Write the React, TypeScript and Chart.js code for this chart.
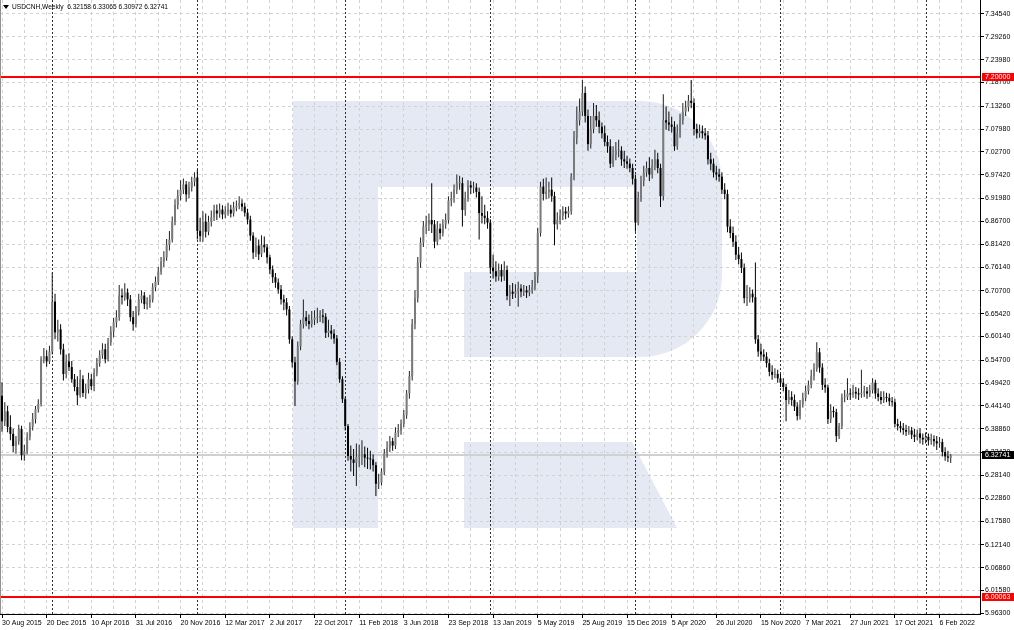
import React, { useEffect, useRef } from 'react';
import { Chart, registerables } from 'chart.js';

Chart.register(...registerables);

// ---- Data (USDCNH weekly candles, 30 Aug 2015 .. 6 Mar 2022) ----
const OPEN = [
  6.465, 6.406, 6.429, 6.393, 6.377, 6.349, 6.360, 6.388, 6.328, 6.337,
  6.370, 6.393, 6.411, 6.434, 6.446, 6.549, 6.556, 6.544, 6.567, 6.682,
  6.611, 6.618, 6.572, 6.515, 6.544, 6.531, 6.503, 6.485, 6.466, 6.503,
  6.471, 6.480, 6.503, 6.487, 6.517, 6.540, 6.558, 6.572, 6.549, 6.588,
  6.613, 6.634, 6.646, 6.696, 6.692, 6.703, 6.687, 6.646, 6.630, 6.659,
  6.687, 6.696, 6.676, 6.680, 6.687, 6.715, 6.728, 6.751, 6.774, 6.784,
  6.813, 6.825, 6.866, 6.905, 6.926, 6.940, 6.952, 6.929, 6.945, 6.958,
  6.968, 6.845, 6.833, 6.866, 6.843, 6.866, 6.876, 6.892, 6.885, 6.894,
  6.883, 6.889, 6.894, 6.885, 6.899, 6.903, 6.908, 6.901, 6.887, 6.871,
  6.834, 6.795, 6.811, 6.791, 6.813, 6.807, 6.784, 6.756, 6.738, 6.726,
  6.710, 6.687, 6.680, 6.664, 6.595, 6.542, 6.498, 6.579, 6.630, 6.646,
  6.637, 6.630, 6.640, 6.645, 6.645, 6.650, 6.647, 6.610, 6.615, 6.608,
  6.597, 6.543, 6.503, 6.457, 6.395, 6.326, 6.318, 6.310, 6.324, 6.325,
  6.330, 6.322, 6.320, 6.318, 6.305, 6.262, 6.265, 6.290, 6.332, 6.345,
  6.360, 6.350, 6.380, 6.385, 6.400, 6.420, 6.470, 6.510, 6.630, 6.690,
  6.772, 6.818, 6.855, 6.860, 6.870, 6.860, 6.820, 6.850, 6.840, 6.860,
  6.870, 6.915, 6.920, 6.940, 6.955, 6.955, 6.893, 6.920, 6.950, 6.945,
  6.945, 6.935, 6.886, 6.880, 6.875, 6.864, 6.760, 6.752, 6.740, 6.755,
  6.740, 6.755, 6.695, 6.705, 6.700, 6.705, 6.712, 6.705, 6.708, 6.703,
  6.708, 6.715, 6.740, 6.840, 6.947, 6.930, 6.935, 6.940, 6.925, 6.860,
  6.870, 6.880, 6.890, 6.885, 6.890, 6.970, 7.060, 7.100, 7.120, 7.163,
  7.110, 7.045, 7.080, 7.110, 7.100, 7.085, 7.070, 7.050, 7.040, 7.000,
  7.020, 7.030, 7.030, 7.010, 7.005, 7.000, 6.990, 6.965, 6.864, 6.920,
  6.960, 6.980, 6.990, 6.975, 6.995, 7.010, 6.990, 6.925, 7.100, 7.095,
  7.090, 7.085, 7.040, 7.070, 7.100, 7.120, 7.130, 7.145, 7.140, 7.080,
  7.070, 7.075, 7.070, 7.065, 7.010, 7.000, 6.980, 6.975, 6.970, 6.940,
  6.930, 6.855, 6.840, 6.820, 6.790, 6.780, 6.760, 6.690, 6.690, 6.700,
  6.692, 6.595, 6.567, 6.560, 6.555, 6.540, 6.520, 6.513, 6.515, 6.505,
  6.495, 6.485, 6.455, 6.462, 6.455, 6.440, 6.418, 6.445, 6.460, 6.476,
  6.490, 6.510, 6.527, 6.565, 6.530, 6.490, 6.484, 6.411, 6.430, 6.427,
  6.372, 6.395, 6.461, 6.462, 6.470, 6.468, 6.474, 6.470, 6.468, 6.472,
  6.475, 6.470, 6.478, 6.495, 6.470, 6.462, 6.455, 6.462, 6.460, 6.452,
  6.450, 6.400, 6.395, 6.390, 6.386, 6.382, 6.385, 6.375, 6.370, 6.378,
  6.368, 6.364, 6.370, 6.362, 6.365, 6.360, 6.355, 6.358, 6.335, 6.325,
  6.32158,
];

const HIGH = [
  6.496, 6.450, 6.441, 6.420, 6.389, 6.372, 6.398, 6.396, 6.352, 6.381,
  6.404, 6.425, 6.441, 6.457, 6.556, 6.575, 6.570, 6.580, 6.749, 6.700,
  6.640, 6.630, 6.585, 6.560, 6.563, 6.545, 6.515, 6.510, 6.525, 6.512,
  6.492, 6.518, 6.515, 6.528, 6.552, 6.570, 6.586, 6.585, 6.598, 6.625,
  6.645, 6.662, 6.720, 6.712, 6.724, 6.712, 6.697, 6.660, 6.672, 6.700,
  6.708, 6.704, 6.692, 6.698, 6.724, 6.740, 6.762, 6.785, 6.798, 6.826,
  6.845, 6.878, 6.918, 6.940, 6.962, 6.966, 6.960, 6.958, 6.970, 6.980,
  6.986, 6.875, 6.890, 6.885, 6.880, 6.892, 6.905, 6.906, 6.908, 6.904,
  6.902, 6.910, 6.905, 6.912, 6.915, 6.925, 6.918, 6.910, 6.896, 6.880,
  6.842, 6.830, 6.825, 6.835, 6.832, 6.815, 6.790, 6.765, 6.748, 6.735,
  6.720, 6.698, 6.690, 6.672, 6.602, 6.555, 6.590, 6.640, 6.687, 6.660,
  6.652, 6.660, 6.662, 6.668, 6.662, 6.665, 6.655, 6.640, 6.628, 6.618,
  6.605, 6.552, 6.510, 6.462, 6.400, 6.350, 6.342, 6.355, 6.352, 6.362,
  6.348, 6.345, 6.338, 6.330, 6.312, 6.285, 6.298, 6.342, 6.360, 6.372,
  6.368, 6.392, 6.400, 6.410, 6.432, 6.478, 6.522, 6.642, 6.708, 6.785,
  6.830, 6.868, 6.880, 6.885, 6.955, 6.870, 6.868, 6.862, 6.872, 6.885,
  6.925, 6.935, 6.952, 6.975, 6.972, 6.968, 6.935, 6.962, 6.960, 6.958,
  6.955, 6.945, 6.925, 6.905, 6.890, 6.872, 6.790, 6.775, 6.770, 6.768,
  6.775, 6.765, 6.720, 6.725, 6.722, 6.728, 6.722, 6.720, 6.718, 6.720,
  6.732, 6.750, 6.852, 6.958, 6.965, 6.968, 6.958, 6.968, 6.935, 6.888,
  6.895, 6.902, 6.900, 6.902, 6.978, 7.075, 7.132, 7.150, 7.193, 7.178,
  7.125, 7.110, 7.140, 7.135, 7.120, 7.095, 7.088, 7.065, 7.056, 7.040,
  7.050, 7.055, 7.040, 7.030, 7.018, 7.012, 7.000, 6.975, 6.935, 6.972,
  6.995, 7.005, 7.015, 7.010, 7.032, 7.025, 7.000, 7.160, 7.132, 7.120,
  7.108, 7.098, 7.090, 7.115, 7.140, 7.145, 7.158, 7.193, 7.150, 7.092,
  7.090, 7.088, 7.082, 7.075, 7.025, 7.012, 6.995, 6.988, 6.980, 6.955,
  6.940, 6.872, 6.855, 6.835, 6.808, 6.795, 6.770, 6.720, 6.715, 6.710,
  6.772, 6.605, 6.585, 6.572, 6.565, 6.550, 6.535, 6.528, 6.525, 6.515,
  6.505, 6.492, 6.478, 6.475, 6.468, 6.450, 6.455, 6.472, 6.488, 6.500,
  6.525, 6.540, 6.588, 6.575, 6.540, 6.505, 6.490, 6.445, 6.440, 6.435,
  6.402, 6.470, 6.478, 6.505, 6.482, 6.490, 6.485, 6.482, 6.525, 6.488,
  6.485, 6.490, 6.505, 6.502, 6.482, 6.475, 6.475, 6.472, 6.470, 6.462,
  6.458, 6.412, 6.406, 6.402, 6.398, 6.395, 6.393, 6.388, 6.387, 6.390,
  6.378, 6.380, 6.378, 6.377, 6.374, 6.372, 6.370, 6.366, 6.346, 6.338,
  6.33065,
];

const LOW = [
  6.382, 6.395, 6.381, 6.362, 6.335, 6.331, 6.352, 6.316, 6.315, 6.330,
  6.362, 6.385, 6.401, 6.426, 6.440, 6.540, 6.532, 6.538, 6.560, 6.595,
  6.590, 6.560, 6.500, 6.505, 6.522, 6.495, 6.475, 6.443, 6.460, 6.462,
  6.458, 6.470, 6.478, 6.475, 6.510, 6.532, 6.550, 6.540, 6.544, 6.580,
  6.600, 6.622, 6.638, 6.675, 6.684, 6.672, 6.636, 6.615, 6.622, 6.650,
  6.678, 6.665, 6.664, 6.668, 6.680, 6.706, 6.720, 6.744, 6.762, 6.776,
  6.800, 6.818, 6.858, 6.895, 6.915, 6.930, 6.912, 6.920, 6.936, 6.948,
  6.825, 6.820, 6.820, 6.830, 6.835, 6.855, 6.868, 6.870, 6.875, 6.872,
  6.874, 6.880, 6.876, 6.878, 6.890, 6.895, 6.890, 6.878, 6.860, 6.822,
  6.780, 6.785, 6.778, 6.785, 6.795, 6.770, 6.745, 6.725, 6.714, 6.700,
  6.675, 6.662, 6.650, 6.585, 6.530, 6.441, 6.490, 6.570, 6.620, 6.625,
  6.618, 6.622, 6.628, 6.632, 6.635, 6.632, 6.598, 6.600, 6.595, 6.585,
  6.535, 6.495, 6.448, 6.385, 6.315, 6.290, 6.280, 6.257, 6.300, 6.305,
  6.300, 6.296, 6.295, 6.290, 6.234, 6.250, 6.258, 6.282, 6.322, 6.335,
  6.338, 6.342, 6.370, 6.375, 6.392, 6.412, 6.458, 6.500, 6.618, 6.680,
  6.760, 6.808, 6.838, 6.845, 6.840, 6.805, 6.812, 6.825, 6.832, 6.850,
  6.862, 6.902, 6.910, 6.930, 6.940, 6.855, 6.880, 6.912, 6.930, 6.932,
  6.922, 6.825, 6.862, 6.860, 6.850, 6.748, 6.735, 6.728, 6.730, 6.728,
  6.730, 6.685, 6.672, 6.688, 6.690, 6.670, 6.692, 6.695, 6.690, 6.694,
  6.700, 6.708, 6.725, 6.832, 6.915, 6.918, 6.920, 6.912, 6.812, 6.848,
  6.860, 6.870, 6.872, 6.875, 6.882, 6.962, 7.045, 7.088, 7.110, 7.095,
  7.030, 7.035, 7.070, 7.085, 7.070, 7.058, 7.040, 7.025, 6.990, 6.992,
  7.008, 7.015, 6.995, 6.990, 6.988, 6.980, 6.952, 6.843, 6.858, 6.912,
  6.948, 6.970, 6.960, 6.966, 6.985, 6.978, 6.900, 6.915, 7.078, 7.075,
  7.072, 7.030, 7.032, 7.060, 7.090, 7.110, 7.120, 7.128, 7.065, 7.058,
  7.060, 7.058, 7.055, 6.998, 6.985, 6.968, 6.962, 6.958, 6.930, 6.918,
  6.842, 6.828, 6.808, 6.778, 6.768, 6.748, 6.678, 6.672, 6.680, 6.680,
  6.585, 6.555, 6.545, 6.545, 6.530, 6.510, 6.502, 6.505, 6.495, 6.485,
  6.475, 6.406, 6.445, 6.442, 6.430, 6.408, 6.410, 6.438, 6.452, 6.468,
  6.482, 6.500, 6.520, 6.518, 6.478, 6.472, 6.400, 6.402, 6.415, 6.358,
  6.365, 6.388, 6.450, 6.455, 6.455, 6.460, 6.458, 6.455, 6.460, 6.462,
  6.458, 6.462, 6.470, 6.458, 6.452, 6.445, 6.448, 6.450, 6.442, 6.440,
  6.392, 6.385, 6.380, 6.375, 6.372, 6.375, 6.365, 6.358, 6.362, 6.355,
  6.352, 6.355, 6.350, 6.352, 6.348, 6.340, 6.345, 6.325, 6.315, 6.312,
  6.30972,
];

const CLOSE = [
  6.406, 6.429, 6.393, 6.377, 6.349, 6.360, 6.388, 6.328, 6.337, 6.370,
  6.393, 6.411, 6.434, 6.446, 6.549, 6.556, 6.544, 6.567, 6.682, 6.611,
  6.618, 6.572, 6.515, 6.544, 6.531, 6.503, 6.485, 6.466, 6.503, 6.471,
  6.480, 6.503, 6.487, 6.517, 6.540, 6.558, 6.572, 6.549, 6.588, 6.613,
  6.634, 6.646, 6.696, 6.692, 6.703, 6.687, 6.646, 6.630, 6.659, 6.687,
  6.696, 6.676, 6.680, 6.687, 6.715, 6.728, 6.751, 6.774, 6.784, 6.813,
  6.825, 6.866, 6.905, 6.926, 6.940, 6.952, 6.929, 6.945, 6.958, 6.968,
  6.845, 6.833, 6.866, 6.843, 6.866, 6.876, 6.892, 6.885, 6.894, 6.883,
  6.889, 6.894, 6.885, 6.899, 6.903, 6.908, 6.901, 6.887, 6.871, 6.834,
  6.795, 6.811, 6.791, 6.813, 6.807, 6.784, 6.756, 6.738, 6.726, 6.710,
  6.687, 6.680, 6.664, 6.595, 6.542, 6.498, 6.579, 6.630, 6.646, 6.637,
  6.630, 6.640, 6.645, 6.645, 6.650, 6.647, 6.610, 6.615, 6.608, 6.597,
  6.543, 6.503, 6.457, 6.395, 6.326, 6.318, 6.310, 6.324, 6.325, 6.330,
  6.322, 6.320, 6.318, 6.305, 6.262, 6.265, 6.290, 6.332, 6.345, 6.360,
  6.350, 6.380, 6.385, 6.400, 6.420, 6.470, 6.510, 6.630, 6.690, 6.772,
  6.818, 6.855, 6.860, 6.870, 6.860, 6.820, 6.850, 6.840, 6.860, 6.870,
  6.915, 6.920, 6.940, 6.955, 6.955, 6.893, 6.920, 6.950, 6.945, 6.945,
  6.935, 6.886, 6.880, 6.875, 6.864, 6.760, 6.752, 6.740, 6.755, 6.740,
  6.755, 6.695, 6.705, 6.700, 6.705, 6.712, 6.705, 6.708, 6.703, 6.708,
  6.715, 6.740, 6.840, 6.947, 6.930, 6.935, 6.940, 6.925, 6.860, 6.870,
  6.880, 6.890, 6.885, 6.890, 6.970, 7.060, 7.100, 7.120, 7.163, 7.110,
  7.045, 7.080, 7.110, 7.100, 7.085, 7.070, 7.050, 7.040, 7.000, 7.020,
  7.030, 7.030, 7.010, 7.005, 7.000, 6.990, 6.965, 6.864, 6.920, 6.960,
  6.980, 6.990, 6.975, 6.995, 7.010, 6.990, 6.925, 7.100, 7.095, 7.090,
  7.085, 7.040, 7.070, 7.100, 7.120, 7.130, 7.145, 7.140, 7.080, 7.070,
  7.075, 7.070, 7.065, 7.010, 7.000, 6.980, 6.975, 6.970, 6.940, 6.930,
  6.855, 6.840, 6.820, 6.790, 6.780, 6.760, 6.690, 6.690, 6.700, 6.692,
  6.595, 6.567, 6.560, 6.555, 6.540, 6.520, 6.513, 6.515, 6.505, 6.495,
  6.485, 6.455, 6.462, 6.455, 6.440, 6.418, 6.445, 6.460, 6.476, 6.490,
  6.510, 6.527, 6.565, 6.530, 6.490, 6.484, 6.411, 6.430, 6.427, 6.372,
  6.395, 6.461, 6.462, 6.470, 6.468, 6.474, 6.470, 6.468, 6.472, 6.475,
  6.470, 6.478, 6.495, 6.470, 6.462, 6.455, 6.462, 6.460, 6.452, 6.450,
  6.400, 6.395, 6.390, 6.386, 6.382, 6.385, 6.375, 6.370, 6.378, 6.368,
  6.364, 6.370, 6.362, 6.365, 6.360, 6.355, 6.358, 6.335, 6.325, 6.322,
  6.32741,
];

// x-axis tick labels, one every 16 weekly bars starting at bar 0
const X_LABELS = [
  '30 Aug 2015', '20 Dec 2015', '10 Apr 2016', '31 Jul 2016', '20 Nov 2016',
  '12 Mar 2017', '2 Jul 2017', '22 Oct 2017', '11 Feb 2018', '3 Jun 2018',
  '23 Sep 2018', '13 Jan 2019', '5 May 2019', '25 Aug 2019', '15 Dec 2019',
  '5 Apr 2020', '26 Jul 2020', '15 Nov 2020', '7 Mar 2021', '27 Jun 2021',
  '17 Oct 2021', '6 Feb 2022',
];
const X_LABEL_STEP = 16;
const X_GRID_STEP = 8;

// price-axis tick labels
const Y_TICKS = [
  7.3454, 7.2926, 7.2398, 7.187, 7.1326, 7.0798, 7.027, 6.9742, 6.9198,
  6.867, 6.8142, 6.7614, 6.707, 6.6542, 6.6014, 6.547, 6.4942, 6.4414,
  6.3886, 6.3342, 6.2814, 6.2286, 6.1758, 6.1214, 6.0686, 6.0158, 5.963,
];

// first weekly bar of each new year (period separators)
const YEAR_START_BARS = [18, 70, 123, 175, 227, 279, 331];

// horizontal levels
const RED_LEVELS = [7.2, 6.00063];
const BID = 6.32741;
const SYMBOL = 'USDCNH,Weekly';
const HEADER_OHLC = ['6.32158', '6.33065', '6.30972', '6.32741'];

const Y_MIN = 5.9617;
const Y_MAX = 7.3773;
const X_MIN = -0.72;
const X_MAX = 350.5;

const FONT_FAMILY = '"Liberation Sans", Arial, sans-serif';
const WM = '#e4e9f3';

const decorPlugin = {
  id: 'decor',
  beforeDraw(chart: any) {
    const { ctx, chartArea: a, width, height } = chart;
    ctx.save();
    ctx.fillStyle = '#ffffff';
    ctx.fillRect(0, 0, width, height);
    const ox = a.left;
    const oy = a.top;
    ctx.fillStyle = WM;
    ctx.beginPath();
    (ctx as any).roundRect(ox + 293, oy + 101, 429, 256, [0, 82, 82, 0]);
    ctx.fill();
    ctx.fillRect(ox + 293, oy + 101, 85, 427);
    ctx.fillStyle = '#ffffff';
    ctx.fillRect(ox + 378, oy + 187, 259, 85);
    ctx.fillRect(ox + 378, oy + 272, 86, 85);
    ctx.fillStyle = WM;
    ctx.beginPath();
    ctx.moveTo(ox + 464, oy + 442);
    ctx.lineTo(ox + 632, oy + 442);
    ctx.lineTo(ox + 677, oy + 528);
    ctx.lineTo(ox + 464, oy + 528);
    ctx.closePath();
    ctx.fill();
    ctx.restore();
  },
  beforeDatasetsDraw(chart: any) {
    const { ctx, chartArea: a, scales } = chart;
    const xs = scales.x;
    const ys = scales.y;
    ctx.save();
    // period separators
    ctx.strokeStyle = '#303030';
    ctx.lineWidth = 1;
    ctx.setLineDash([2, 2]);
    YEAR_START_BARS.forEach((b) => {
      const x = Math.round(xs.getPixelForValue(b)) + 0.5;
      ctx.beginPath();
      ctx.moveTo(x, a.top);
      ctx.lineTo(x, a.bottom);
      ctx.stroke();
    });
    ctx.setLineDash([]);
    // bid line
    const yb = Math.round(ys.getPixelForValue(BID));
    ctx.strokeStyle = '#d0d0d0';
    ctx.lineWidth = 2;
    ctx.beginPath();
    ctx.moveTo(a.left, yb);
    ctx.lineTo(a.right, yb);
    ctx.stroke();
    ctx.restore();
  },
  afterDatasetsDraw(chart: any) {
    const { ctx, chartArea: a, scales } = chart;
    const ys = scales.y;
    ctx.save();
    ctx.strokeStyle = '#ff0000';
    ctx.lineWidth = 2;
    RED_LEVELS.forEach((v) => {
      const y = Math.round(ys.getPixelForValue(v));
      ctx.beginPath();
      ctx.moveTo(a.left, y);
      ctx.lineTo(a.right, y);
      ctx.stroke();
    });
    ctx.restore();
  },
  afterDraw(chart: any) {
    const { ctx, chartArea: a, scales, width } = chart;
    const ys = scales.y;
    ctx.save();
    ctx.font = `7px ${FONT_FAMILY}`;
    ctx.textBaseline = 'middle';
    ctx.textAlign = 'left';
    const box = (v: number, bg: string, text: string) => {
      const y = Math.round(ys.getPixelForValue(v));
      ctx.fillStyle = bg;
      ctx.fillRect(a.right + 2, y - 4, width - a.right - 2, 8);
      ctx.fillStyle = '#ffffff';
      ctx.fillText(text, a.right + 5, y + 0.5);
    };
    RED_LEVELS.forEach((v) => box(v, '#ff0000', v.toFixed(5)));
    box(BID, '#000000', BID.toFixed(5));
    // left frame
    ctx.strokeStyle = '#909090';
    ctx.lineWidth = 1;
    ctx.beginPath();
    ctx.moveTo(a.left + 0.5, a.top);
    ctx.lineTo(a.left + 0.5, a.bottom);
    ctx.stroke();
    // header
    ctx.fillStyle = '#000000';
    ctx.beginPath();
    ctx.moveTo(a.left + 3, a.top + 5);
    ctx.lineTo(a.left + 9, a.top + 5);
    ctx.lineTo(a.left + 6, a.top + 9);
    ctx.closePath();
    ctx.fill();
    ctx.font = `6.6px ${FONT_FAMILY}`;
    ctx.fillText(SYMBOL + '  ' + HEADER_OHLC.join(' '), a.left + 12, a.top + 7.5);
    ctx.restore();
  },
};

export default function App() {
  const ref = useRef<HTMLCanvasElement | null>(null);

  useEffect(() => {
    if (!ref.current) return;
    const idx = CLOSE.map((_, i) => i);
    const isUp = idx.map((i) => CLOSE[i] >= OPEN[i]);
    const wickData = idx.map((i) => ({ x: i, y: [LOW[i], HIGH[i]] }));
    const bodyData = idx.map((i) => ({ x: i, y: [OPEN[i], CLOSE[i]] }));
    const gridBars: number[] = [];
    for (let b = 0; b <= X_MAX; b += X_GRID_STEP) gridBars.push(b);

    const chart = new Chart(ref.current, {
      type: 'bar',
      data: {
        datasets: [
          {
            data: wickData as any,
            backgroundColor: idx.map((i) => (isUp[i] ? '#202020' : '#000000')),
            borderWidth: 0,
            grouped: false,
            maxBarThickness: 1,
            order: 2,
          } as any,
          {
            data: bodyData as any,
            backgroundColor: idx.map((i) => (isUp[i] ? '#7a7a7a' : '#000000')),
            borderWidth: 0,
            grouped: false,
            maxBarThickness: 2,
            minBarLength: 1,
            order: 1,
          } as any,
        ],
      },
      options: {
        responsive: false,
        animation: false,
        devicePixelRatio: 1,
        events: [],
        layout: { padding: 0 },
        plugins: {
          legend: { display: false },
          tooltip: { enabled: false },
        },
        scales: {
          x: {
            type: 'linear',
            min: X_MIN,
            max: X_MAX,
            offset: false,
            afterBuildTicks: (s: any) => {
              s.ticks = gridBars.map((v) => ({ value: v }));
            },
            afterFit: (s: any) => {
              s.height = 16;
              s.paddingLeft = 0;
              s.paddingRight = 0;
            },
            ticks: {
              autoSkip: false,
              maxRotation: 0,
              minRotation: 0,
              align: 'start',
              padding: 1,
              color: '#000000',
              font: { family: FONT_FAMILY, size: 7 },
              callback: (v: any) => {
                const n = Number(v);
                return n % X_LABEL_STEP === 0 ? X_LABELS[n / X_LABEL_STEP] ?? '' : '';
              },
            },
            grid: {
              offset: false,
              color: '#d2d2d2',
              lineWidth: 1,
              tickLength: 4,
              tickColor: (c: any) =>
                c.tick && Number(c.tick.value) % X_LABEL_STEP === 0 ? '#000000' : 'rgba(0,0,0,0)',
            },
            border: { display: true, color: '#000000', width: 1, dash: [3, 3] },
          } as any,
          y: {
            type: 'linear',
            position: 'right',
            min: Y_MIN,
            max: Y_MAX,
            afterBuildTicks: (s: any) => {
              s.ticks = Y_TICKS.map((v) => ({ value: v }));
            },
            afterFit: (s: any) => {
              s.width = 34;
              s.paddingTop = 0;
              s.paddingBottom = 0;
            },
            ticks: {
              padding: 1,
              color: '#000000',
              font: { family: FONT_FAMILY, size: 7 },
              callback: (v: any) => Number(v).toFixed(5),
            },
            grid: {
              color: '#d2d2d2',
              lineWidth: 1,
              tickLength: 4,
              tickColor: '#000000',
            },
            border: { display: true, color: '#000000', width: 1, dash: [3, 3] },
          } as any,
        },
      },
      plugins: [decorPlugin],
    } as any);

    return () => chart.destroy();
  }, []);

  return (
    <div style={{ position: 'absolute', left: 0, top: 0, width: 1014, height: 630, background: '#ffffff' }}>
      <canvas ref={ref} width={1014} height={630} style={{ display: 'block', width: 1014, height: 630 }} />
    </div>
  );
}
